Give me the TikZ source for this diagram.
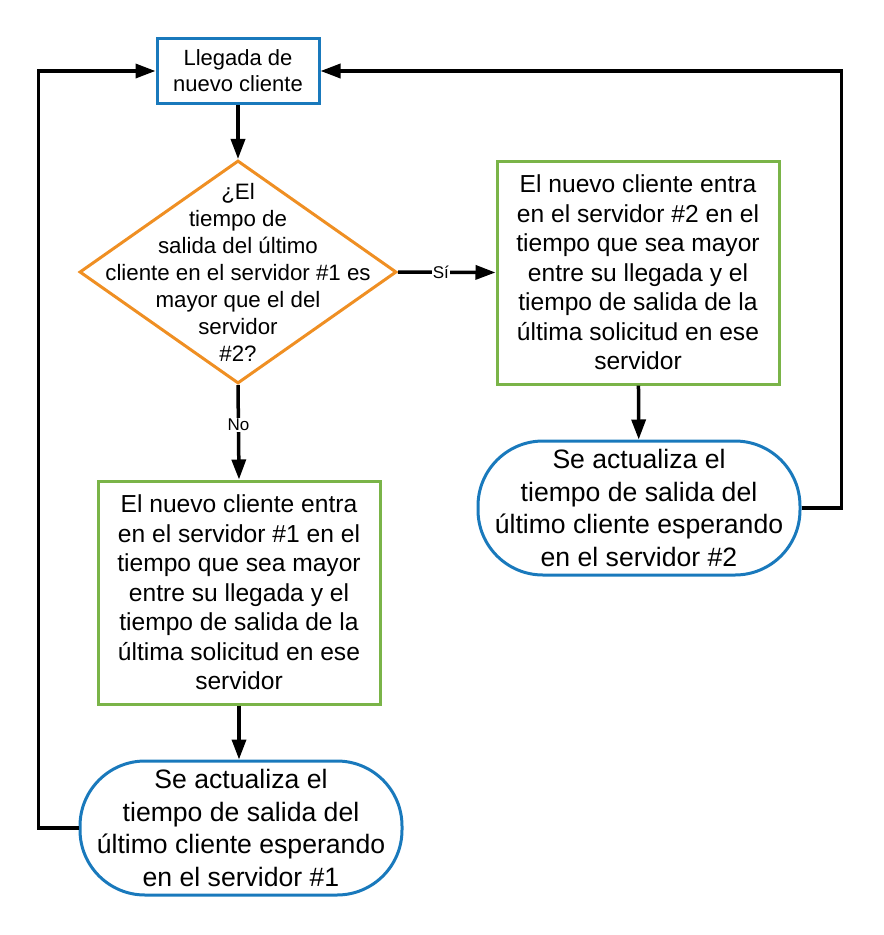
\documentclass[tikz,border=0pt]{standalone}
\usepackage{fontspec}
\setmainfont{Liberation Sans}
\usepackage{xcolor}
\usepackage{tikz}
\usetikzlibrary{shapes,arrows.meta,positioning,calc}

\definecolor{lucidblue}{RGB}{25,121,188}
\definecolor{lucidorange}{RGB}{239,143,35}
\definecolor{lucidgreen}{RGB}{122,180,72}

\begin{document}
\begin{tikzpicture}[x=1pt,y=-1pt,
    startbox/.style={draw=lucidblue, line width=3pt, minimum width=162pt, minimum height=65pt, inner sep=0pt, align=center, font=\fontsize{22}{26}\selectfont},
    decision/.style={diamond, draw=lucidorange, line width=3pt, minimum width=317pt, minimum height=223pt, inner sep=0pt},
    qtext/.style={align=center, inner sep=0pt, font=\fontsize{22.3}{27}\selectfont},
    process/.style={draw=lucidgreen, line width=3pt, minimum width=282pt, minimum height=223pt, inner sep=0pt, align=center, font=\fontsize{24.6}{29.5}\selectfont},
    update/.style={draw=lucidblue, line width=3pt, rounded corners=65pt, minimum width=322pt, minimum height=134pt, inner sep=0pt, align=center, font=\fontsize{26.6}{32.5}\selectfont},
    flow/.style={line width=3.5pt, -{Triangle[length=20pt,width=14pt]}},
    answer/.style={fill=white, inner sep=1pt, font=\fontsize{17}{20}\selectfont}
]
    \useasboundingbox (0,0) rectangle (884,935);

    % Arrival
    \node[startbox] (arrival) at (238,71) {Llegada de\\nuevo cliente};

    % Question
    \node[decision, label={[qtext]center:{¿El\\tiempo de\\salida del último\\cliente en el servidor \#1 es\\mayor que el del\\servidor\\\#2?}}] (question) at (238,272) {};

    % Server 2 branch
    \node[process] (enter2) at (638,272.5) {El nuevo cliente entra\\en el servidor \#2 en el\\tiempo que sea mayor\\entre su llegada y el\\tiempo de salida de la\\última solicitud en ese\\servidor};
    \node[update] (update2) at (639,508) {Se actualiza el\\tiempo de salida del\\último cliente esperando\\en el servidor \#2};

    % Server 1 branch
    \node[process] (enter1) at (239,592.5) {El nuevo cliente entra\\en el servidor \#1 en el\\tiempo que sea mayor\\entre su llegada y el\\tiempo de salida de la\\última solicitud en ese\\servidor};
    \node[update] (update1) at (241,828) {Se actualiza el\\tiempo de salida del\\último cliente esperando\\en el servidor \#1};

    % Arrows
    \draw[flow] (arrival) -- (question);
    \draw[flow] (question.east) -- node[answer, pos=0.44] (yes) {Sí} (enter2.west);
    \draw[flow] (question.south) -- node[answer, pos=0.42] (no) {No} (enter1.north);
    \draw[flow] (enter2) -- (update2);
    \draw[flow] (enter1.south) -- (enter1.south |- update1.north);

    % Loops back
    \draw[flow] (update2.east) -- ++(40,0) |- (arrival.east);
    \draw[flow] (update1.west) -- ++(-40,0) |- (arrival.west);
\end{tikzpicture}
\end{document}
